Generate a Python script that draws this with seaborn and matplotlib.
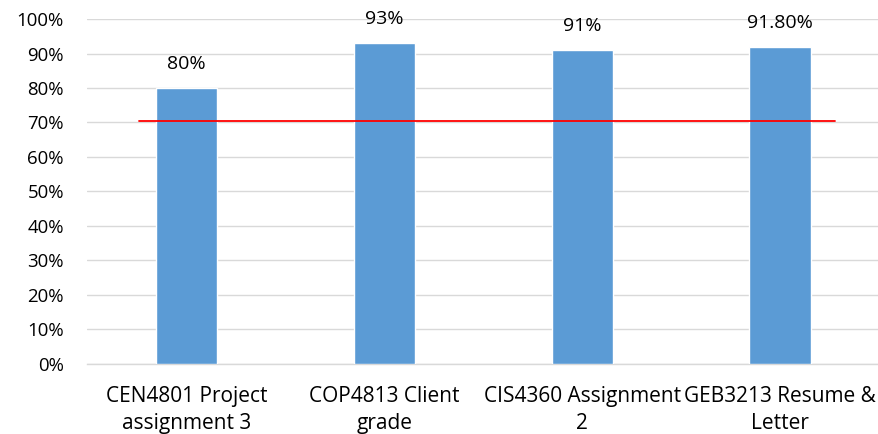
import matplotlib
matplotlib.use("Agg")
import matplotlib.pyplot as plt
import seaborn as sns
import pandas as pd
from matplotlib.ticker import FuncFormatter

categories = ["CEN4801 Project\nassignment 3", "COP4813 Client\ngrade",
              "CIS4360 Assignment\n2", "GEB3213 Resume &\nLetter"]
values = [0.80, 0.93, 0.91, 0.918]
value_labels = ["80%", "93%", "91%", "91.80%"]
target = 0.705

sns.set_theme(style="white")
plt.rcParams['font.family'] = ['Open Sans', 'DejaVu Sans']

df = pd.DataFrame({"cat": categories, "val": values})

fig = plt.figure(figsize=(8.79, 4.34), dpi=100)
ax = fig.add_axes([0.0995, 0.162, 0.9005, 0.794])

sns.barplot(data=df, x="cat", y="val", color="#5b9bd5", width=0.31,
            saturation=1, ax=ax, zorder=3)

ax.set_ylim(0, 1.0)
ax.set_xlim(-0.5, 3.5)
ax.set_yticks([i / 10 for i in range(11)])
ax.yaxis.set_major_formatter(FuncFormatter(lambda v, p: f"{v*100:.0f}%"))
ax.grid(axis="y", color="#d9d9d9", linewidth=1, zorder=0)
ax.set_axisbelow(True)
for s in ["top", "right", "left"]:
    ax.spines[s].set_visible(False)
ax.spines["bottom"].set_color("#d9d9d9")
ax.spines["bottom"].set_linewidth(1)
ax.tick_params(axis="y", length=0, labelsize=13.4, colors="#000000", pad=17)
ax.tick_params(axis="x", length=0, labelsize=15, colors="#000000", pad=16)
ax.set_xlabel("")
ax.set_ylabel("")
plt.setp(ax.get_xticklabels(), linespacing=1.4)

for i, (v, lab) in enumerate(zip(values, value_labels)):
    ax.annotate(lab, (i, v), xytext=(0, 17.5), textcoords="offset points",
                ha="center", va="center", fontsize=14, color="#000000")

ax.plot([-0.24, 3.28], [target, target], color="#ff0000", linewidth=1.3, zorder=4)

fig.savefig("out.png", dpi=100)
